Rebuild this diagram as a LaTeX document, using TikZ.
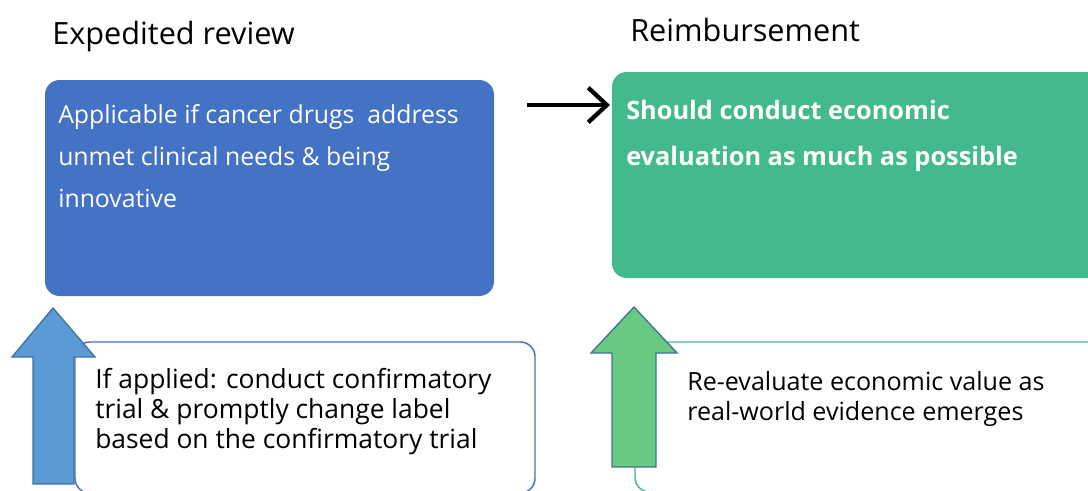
\documentclass[tikz,border=0pt]{standalone}
\usepackage{fontspec}
\setmainfont{Open Sans}
\usetikzlibrary{arrows.meta}

\definecolor{boxblue}{RGB}{68,114,196}
\definecolor{boxgreen}{RGB}{66,186,139}
\definecolor{arrowblue}{RGB}{91,155,213}
\definecolor{arrowgreen}{RGB}{104,201,128}
\definecolor{arrowedge}{RGB}{65,113,156}

\tikzset{
  heading/.style={anchor=base west,inner sep=0pt,font=\fontsize{23}{26}\selectfont},
  mainbox/.style={rounded corners=11pt},
  maintext/.style={anchor=north west,inner sep=0pt,align=left,text=white},
  notebox/.style={rounded corners=11pt,fill=white,line width=1.1pt},
  notetext/.style={anchor=north west,inner sep=0pt,align=left},
  blockarrow/.style={draw=arrowedge,line width=1pt,line join=miter},
}

\begin{document}
\begin{tikzpicture}[x=0.75pt,y=-0.75pt]
\useasboundingbox (0,0) rectangle (1088,490);
\clip (0,0) rectangle (1088,490);

\node[heading] (expedited) at (52,44) {Expedited review};
\node[heading] (reimburse) at (630,41) {Reimbursement};

\fill[mainbox,boxblue] (45,80) rectangle (494,296);
\fill[mainbox,boxgreen] (612,72) rectangle (1110,278);

\node[maintext,font=\fontsize{18.6}{31.5}\selectfont] (applicable) at (58,104)
  {Applicable if cancer drugs\ \ address\\unmet clinical needs \& being\\innovative};
\node[maintext,font=\bfseries\fontsize{19}{34.5}\selectfont] (economic) at (626,100)
  {Should conduct economic\\evaluation as much as possible};

\coordinate (arrowstart) at (527,105);
\coordinate (arrowend) at (610,105);
\draw[line width=3.2pt,-{Straight Barb[length=14pt,width=26pt]}] (arrowstart) -- (arrowend);

\draw[notebox,draw=boxblue] (75,342) rectangle (535,493);
\draw[notebox,draw=boxgreen] (635,342) rectangle (1110,492);

\draw[blockarrow,fill=arrowblue] (33,484) -- (33,357) -- (12,357) -- (53,308)
  -- (95,357) -- (74,357) -- (74,484) -- cycle;
\draw[blockarrow,fill=arrowgreen] (612,467) -- (612,353) -- (591,353) -- (634,307)
  -- (677,353) -- (656,353) -- (656,467) -- cycle;

\node[notetext,font=\fontsize{19.8}{22.5}\selectfont] (confirm) at (95,368)
  {If applied: conduct confirmatory\\trial \& promptly change label\\based on the confirmatory trial};
\node[notetext,font=\fontsize{18.8}{22.5}\selectfont] (reevaluate) at (687,371)
  {Re-evaluate economic value as\\real-world evidence emerges};
\end{tikzpicture}
\end{document}
